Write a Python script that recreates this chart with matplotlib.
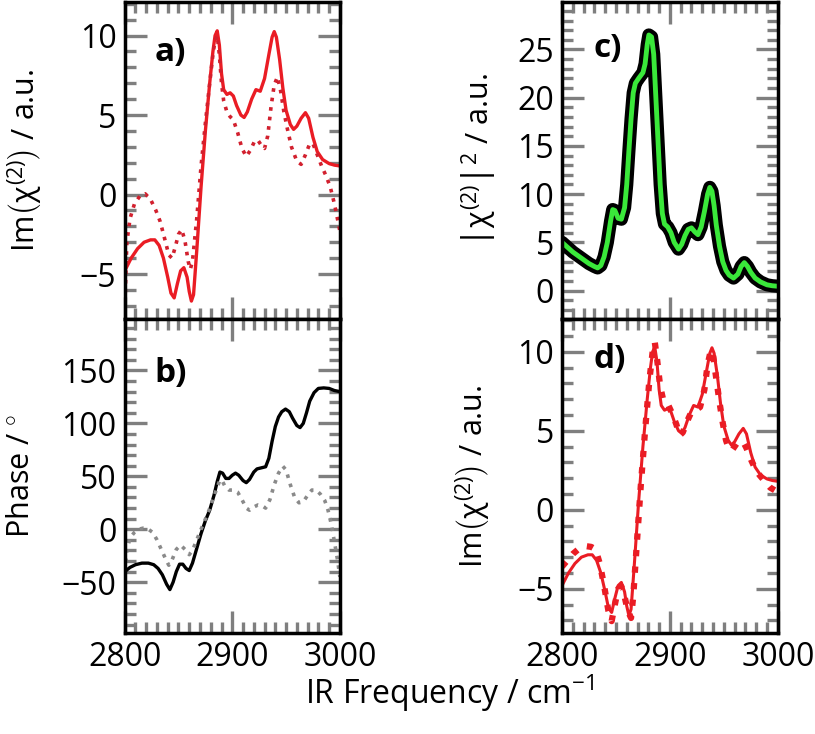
import numpy as np
import matplotlib
matplotlib.use('Agg')
import matplotlib.pyplot as plt
from matplotlib.ticker import MultipleLocator

plt.rcParams['font.family'] = ['Open Sans', 'DejaVu Sans']
plt.rcParams['mathtext.fontset'] = 'custom'
plt.rcParams['mathtext.rm'] = 'Open Sans'
plt.rcParams['mathtext.it'] = 'Open Sans'
plt.rcParams['mathtext.bf'] = 'Open Sans:bold'

# --- data ---
# Im(chi2) fit (solid red, panels a and d)
f_fit = [2800, 2806, 2812, 2818, 2824, 2828, 2832, 2836, 2840, 2843, 2846, 2849, 2852, 2855,
         2858, 2860, 2862, 2864, 2867, 2871, 2875, 2879, 2882, 2884, 2886, 2888, 2890, 2892,
         2895, 2898, 2901, 2904, 2908, 2911, 2914, 2918, 2922, 2926, 2930, 2934, 2937, 2939,
         2941, 2944, 2947, 2950, 2954, 2957, 2960, 2964, 2968, 2971, 2975, 2979, 2984, 2990,
         2995, 3000]
im_fit = [-4.8, -4.0, -3.4, -3.0, -2.85, -2.85, -3.2, -4.0, -5.2, -6.2, -6.5, -5.6, -4.8, -4.6,
          -5.2, -6.1, -6.7, -6.3, -3.5, 0.5, 4.0, 7.0, 9.0, 10.0, 10.3, 9.4, 7.6, 6.6,
          6.3, 6.4, 6.2, 5.6, 5.0, 4.85, 5.2, 6.0, 6.6, 6.5, 7.3, 8.8, 9.9, 10.25,
          9.9, 8.5, 6.7, 5.3, 4.4, 4.1, 4.3, 4.8, 5.15, 4.8, 3.6, 2.7, 2.2, 1.95,
          1.85, 1.8]

# Im(chi2) dotted, panel a
f_a2 = [2800, 2802, 2805, 2809, 2814, 2819, 2824, 2829, 2833, 2838, 2841, 2844, 2847, 2850,
        2853, 2856, 2859, 2861, 2863, 2867, 2871, 2875, 2879, 2882, 2884, 2886, 2888, 2890,
        2892, 2895, 2898, 2901, 2905, 2909, 2913, 2917, 2921, 2924, 2927, 2930, 2933, 2936,
        2939, 2942, 2945, 2948, 2951, 2955, 2960, 2964, 2968, 2972, 2975, 2979, 2983, 2987,
        2991, 2995, 2998, 3000]
im_a2 = [-7.4, -3.0, -1.5, -0.6, -0.1, 0.05, -0.3, -1.0, -1.7, -3.0, -3.8, -4.0, -3.3, -2.5,
         -2.2, -2.9, -4.2, -4.7, -4.2, -1.5, 1.8, 4.5, 7.0, 8.8, 9.7, 10.0, 8.8, 7.0,
         5.9, 5.2, 4.9, 4.7, 3.9, 2.9, 2.4, 2.8, 3.4, 3.4, 3.1, 2.9, 3.7, 5.5,
         6.9, 7.4, 6.5, 5.2, 4.2, 3.0, 2.1, 1.9, 2.5, 3.2, 3.2, 2.5, 1.8, 1.2,
         0.5, -0.6, -1.6, -2.3]

# phase, solid black, panel b
f_ph = [2800, 2805, 2810, 2816, 2822, 2827, 2831, 2835, 2839, 2842, 2845, 2848, 2851, 2854,
        2857, 2860, 2863, 2867, 2871, 2875, 2879, 2883, 2886, 2888.5, 2891, 2894, 2897, 2900,
        2903, 2906, 2910, 2913, 2916, 2920, 2923, 2927, 2931, 2934, 2937, 2940, 2943, 2946,
        2949.5, 2953, 2956, 2960, 2963, 2966, 2969, 2972, 2976, 2980, 2985, 2990, 2995, 3000]
phase = [-40, -36, -33.5, -32, -32, -33.5, -37, -43, -52, -57, -50, -40, -33, -33,
         -37, -39, -32, -18, -4, 8, 18, 32, 45, 54, 53, 48, 48, 51,
         53, 51, 46, 44, 47, 54, 57, 58, 59, 67, 83, 97, 106, 111,
         113.5, 111, 105, 98, 96, 100, 110, 121, 129, 133, 133.5, 133, 131, 130]

# phase, dotted grey, panel b
f_ph2 = [2800, 2802, 2805, 2809, 2813, 2817, 2822, 2826, 2830, 2834, 2838, 2841, 2844, 2848,
         2852, 2856, 2860, 2863, 2867, 2871, 2876, 2880, 2884, 2888, 2890, 2893, 2897, 2901,
         2905, 2909, 2913, 2916, 2920, 2924, 2928, 2931, 2935, 2939, 2943, 2947, 2950, 2954,
         2958, 2962, 2966, 2970, 2974, 2978, 2982, 2986, 2989, 2992, 2995, 2998, 3000]
phase2 = [-40, -20, -8, -3, 0, 1, 0, -3, -10, -19, -28, -34, -29, -19,
          -15, -19, -24, -20, -10, 0, 12, 22, 34, 45, 47, 41, 37, 37,
          35, 28, 20, 18, 21, 23, 22, 20, 28, 42, 53, 59.5, 56, 42,
          30, 25, 26, 32, 37, 37, 33, 27, 18, 5, -12, -30, -45]

# |chi2|^2, panel c
f_sq = [2800, 2805, 2810, 2815, 2820, 2825, 2830, 2833, 2836, 2839, 2842, 2845, 2847, 2849,
        2852, 2855, 2858, 2860, 2862, 2864, 2866, 2868, 2871, 2875, 2877, 2879, 2880.5, 2883,
        2885, 2887, 2889, 2891, 2893, 2895, 2898, 2901, 2904, 2908, 2911, 2914, 2917, 2920,
        2923, 2926, 2929, 2932, 2935, 2937, 2939, 2941, 2943, 2946, 2949, 2952, 2955, 2959,
        2963, 2966, 2969, 2972, 2975, 2979, 2984, 2990, 2995, 3000]
chi_sq = [5.0, 4.5, 4.0, 3.6, 3.2, 2.8, 2.5, 2.35, 2.6, 3.5, 5.0, 7.2, 8.4, 8.3,
          7.5, 7.4, 8.6, 11, 14.5, 17.8, 20.5, 21.5, 22.0, 22.6, 23.5, 25.5, 26.5, 26.3,
          24.5, 20, 15.5, 11, 8.0, 6.9, 6.6, 6.0, 5.0, 4.3, 4.8, 5.7, 6.35, 6.5,
          6.1, 5.8, 6.6, 8.2, 10.0, 10.7, 10.3, 8.8, 6.8, 4.6, 3.0, 2.1, 1.6, 1.3,
          1.7, 2.5, 2.9, 2.5, 1.9, 1.3, 0.9, 0.6, 0.5, 0.45]

# Im(chi2) dotted, panel d
f_d2 = [2800, 2805, 2810, 2816, 2822, 2827, 2831, 2835, 2839, 2843, 2846, 2849, 2852, 2855,
        2858, 2861, 2864, 2866, 2869, 2873, 2877, 2881, 2884, 2886, 2888, 2891, 2894, 2898,
        2902, 2906, 2909, 2912, 2916, 2920, 2924, 2928, 2932, 2935, 2938, 2940, 2943, 2946,
        2949, 2952, 2955, 2958, 2962, 2965, 2968, 2971, 2975, 2979, 2983, 2988, 2993, 2998, 3000]
im_d2 = [-3.6, -3.2, -2.8, -2.45, -2.3, -2.35, -2.5, -3.4, -4.8, -6.4, -7.05, -6.0, -5.0, -4.85,
         -5.5, -6.4, -6.85, -5.5, -2.5, 1.5, 5.0, 8.2, 10.0, 10.6, 9.6, 7.8, 6.9, 6.7,
         6.1, 5.4, 4.7, 4.9, 5.6, 6.2, 6.3, 6.5, 7.6, 9.2, 10.1, 9.8, 8.3, 6.8,
         5.5, 4.4, 3.8, 3.8, 4.2, 4.3, 4.3, 3.9, 3.2, 2.6, 2.2, 1.8, 1.4, 1.2, 1.1]

red = '#ea1c24'
grey = '#7f7f7f'

fig = plt.figure(figsize=(8.15, 7.34), dpi=100)
axa = fig.add_axes([0.153, 0.566, 0.264, 0.431])
axb = fig.add_axes([0.153, 0.1376, 0.264, 0.4284])
axc = fig.add_axes([0.6896, 0.566, 0.2647, 0.431])
axd = fig.add_axes([0.6896, 0.1376, 0.2647, 0.4284])

axa.plot(f_fit, im_fit, color=red, lw=2.4)
axa.plot(f_a2, im_a2, color='#d2202e', lw=2.6, ls=':')
axb.plot(f_ph, phase, color='black', lw=2.4)
axb.plot(f_ph2, phase2, color='#8a8a8a', lw=2.6, ls=':')
axc.plot(f_sq, chi_sq, color='black', lw=9.5, solid_capstyle='round')
axc.plot(f_sq, chi_sq, color='#3ae83a', lw=3.5)
axd.plot(f_fit, im_fit, color=red, lw=2.2)
axd.plot(f_d2, im_d2, color=red, lw=4.5, ls=':')

axa.set_ylim(-7.8, 12.1)
axb.set_ylim(-98, 199)
axc.set_ylim(-2.9, 29.9)
axd.set_ylim(-7.8, 12.1)

for ax, maj, mnr in [(axa, 5, 1), (axb, 50, 10), (axc, 5, 1), (axd, 5, 1)]:
    ax.set_xlim(2800, 3000)
    ax.xaxis.set_major_locator(MultipleLocator(100))
    ax.xaxis.set_minor_locator(MultipleLocator(10))
    ax.yaxis.set_major_locator(MultipleLocator(maj))
    ax.yaxis.set_minor_locator(MultipleLocator(mnr))
    ax.tick_params(which='both', direction='in', top=True, right=True,
                   color=grey, width=2.4, labelsize=23)
    ax.tick_params(which='major', length=16, pad=6)
    ax.tick_params(which='minor', length=8)
    for s in ax.spines.values():
        s.set_linewidth(2.5)
        s.set_zorder(5)

axa.tick_params(labelbottom=False)
axc.tick_params(labelbottom=False)

axa.set_ylabel(r'Im$\left(\chi^{(2)}\right)$ / a.u.', fontsize=22)
axb.set_ylabel(r'Phase / $^{\circ}$', fontsize=22)
axc.set_ylabel(r'$\left|\chi^{(2)}\right|^2$ / a.u.', fontsize=22)
axd.set_ylabel(r'Im$\left(\chi^{(2)}\right)$ / a.u.', fontsize=22)
axa.yaxis.set_label_coords(-0.37, 0.5)
axb.yaxis.set_label_coords(-0.41, 0.5)
axc.yaxis.set_label_coords(-0.29, 0.5)
axd.yaxis.set_label_coords(-0.32, 0.5)

axa.text(0.14, 0.84, 'a)', transform=axa.transAxes, fontsize=24, fontweight='bold', va='center')
axb.text(0.14, 0.825, 'b)', transform=axb.transAxes, fontsize=24, fontweight='bold', va='center')
axc.text(0.145, 0.855, 'c)', transform=axc.transAxes, fontsize=24, fontweight='bold', va='center')
axd.text(0.145, 0.87, 'd)', transform=axd.transAxes, fontsize=24, fontweight='bold', va='center')

fig.text(0.552, 0.055, r'IR Frequency / cm$^{-1}$', fontsize=23, ha='center', va='center')

fig.savefig('out.png', dpi=100)
